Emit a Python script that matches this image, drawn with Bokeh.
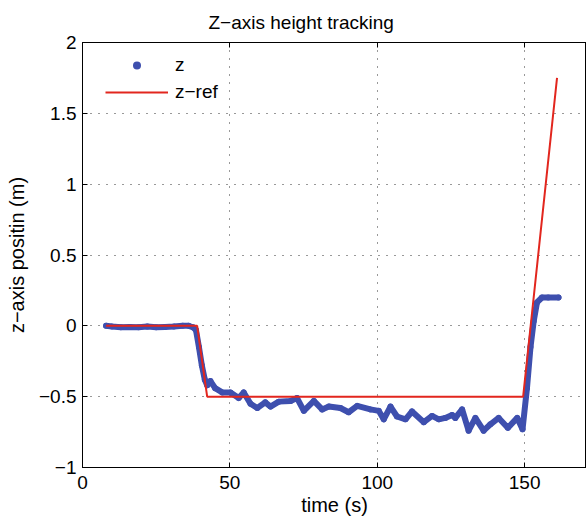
from bokeh.plotting import figure
from bokeh.models import LinearAxis, Legend, LegendItem, FixedTicker, Range1d
from bokeh.embed import file_html
from bokeh.resources import INLINE

# z measured (time s, position m)
z_t = [8, 10, 13, 16, 19, 22, 25, 28, 31, 34, 36, 37.5, 38.5, 39.5, 40.5, 41.5, 42.3,
       43.4, 45, 47.4, 50.2, 53, 54.7, 57, 59.3, 62, 63.8, 66.6, 70.6, 72.8, 75.1,
       78.5, 81.3, 83.6, 87.5, 90.3, 93.2, 97.7, 100.5, 102.2, 104.5, 106.7, 109.6,
       111.8, 115.8, 118.6, 120.9, 123.1, 125.4, 126.5, 128.8, 131, 133.3, 136.1,
       138.4, 141.2, 144.3, 147.5, 149.3, 150.8, 152, 153.1, 154.2, 155.9, 158, 161.5]
z_v = [0.0, -0.005, -0.01, -0.008, -0.01, -0.005, -0.01, -0.008, -0.005, 0.0, 0.0,
       -0.01, -0.03, -0.15, -0.28, -0.38, -0.42,
       -0.39, -0.44, -0.47, -0.47, -0.51, -0.47, -0.55, -0.58, -0.54, -0.57, -0.535,
       -0.53, -0.51, -0.60,
       -0.53, -0.59, -0.57, -0.58, -0.61, -0.565, -0.59, -0.60, -0.66, -0.57, -0.64,
       -0.66, -0.605, -0.68, -0.636, -0.66, -0.65, -0.63, -0.65, -0.59, -0.74, -0.65,
       -0.74, -0.695, -0.65, -0.72, -0.65, -0.73, -0.44, -0.15, 0.035, 0.165, 0.2,
       0.2, 0.2]

# reference trajectory
ref_t = [8, 38.9, 42.3, 149.5, 161]
ref_v = [0.0, 0.0, -0.5, -0.5, 1.75]

x_ticks = [0, 50, 100, 150]
y_ticks = [-1, -0.5, 0, 0.5, 1, 1.5, 2]

BLUE = "#3E4FAE"
RED = "#E2261E"
FONT = "Liberation Sans"

p = figure(width=586, height=518, output_backend="svg", toolbar_location=None,
           x_range=Range1d(0, 171), y_range=Range1d(-1, 2),
           min_border_left=82, min_border_right=0, min_border_top=42,
           min_border_bottom=51)

p.title.text = "Z\u2212axis height tracking"
p.title.text_font = FONT
p.title.text_font_size = "19px"
p.title.text_font_style = "normal"
p.title.text_color = "black"
p.title.align = "left"
p.title.offset = 126
p.title.standoff = 19

p.outline_line_color = "black"
p.outline_line_width = 1
p.background_fill_color = "white"
p.border_fill_color = "white"

for ax in (p.xaxis[0], p.yaxis[0]):
    ax.major_label_text_font = FONT
    ax.major_label_text_font_size = "19px"
    ax.major_label_text_color = "black"
    ax.axis_label_text_font = FONT
    ax.axis_label_text_font_size = "20px"
    ax.axis_label_text_font_style = "normal"
    ax.axis_label_text_color = "black"
    ax.major_tick_in = 5
    ax.major_tick_out = 0
    ax.minor_tick_in = 0
    ax.minor_tick_out = 0
    ax.axis_line_color = "black"
    ax.major_tick_line_color = "black"

p.xaxis[0].ticker = FixedTicker(ticks=x_ticks)
p.yaxis[0].ticker = FixedTicker(ticks=y_ticks)
p.xaxis[0].axis_label = "time (s)"
p.yaxis[0].axis_label = "z\u2212axis positin (m)"
p.xaxis[0].major_label_standoff = 8
p.yaxis[0].major_label_standoff = 6
p.xaxis[0].axis_label_standoff = 2
p.yaxis[0].axis_label_standoff = 8

top = LinearAxis(ticker=FixedTicker(ticks=x_ticks),
                 major_label_overrides={t: "" for t in x_ticks},
                 major_tick_in=5, major_tick_out=0, minor_tick_in=0, minor_tick_out=0,
                 major_label_standoff=0, axis_line_color="black")
p.add_layout(top, "above")

p.xgrid.ticker = FixedTicker(ticks=x_ticks)
p.ygrid.ticker = FixedTicker(ticks=y_ticks)
for g in (p.xgrid[0], p.ygrid[0]):
    g.grid_line_color = "black"
    g.grid_line_dash = "1 7"
    g.grid_line_alpha = 0.8
    g.grid_line_width = 1

p.line(z_t, z_v, line_color=BLUE, line_width=6, line_join="round", line_cap="round")
zs = p.scatter(z_t, z_v, size=6, color=BLUE, line_color=None)
rl = p.line(ref_t, ref_v, line_color=RED, line_width=2)

legend = Legend(items=[LegendItem(label="z", renderers=[zs]),
                       LegendItem(label="z\u2212ref", renderers=[rl])],
                location=(23, 364), border_line_color=None, background_fill_alpha=0,
                label_text_font=FONT, label_text_font_size="19px",
                label_text_color="black",
                glyph_width=63, glyph_height=20, label_height=20, spacing=5,
                padding=0, margin=0, label_standoff=7)
p.add_layout(legend, "center")

open("out.html", "w").write(file_html(p, INLINE))
